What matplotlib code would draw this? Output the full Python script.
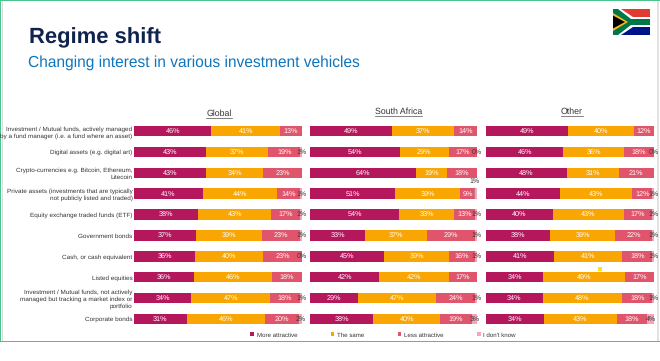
import numpy as np
import matplotlib
matplotlib.use('Agg')
import matplotlib.pyplot as plt
from matplotlib.patches import Polygon, Rectangle

plt.rcParams['font.family'] = ['Liberation Sans', 'DejaVu Sans']
plt.rcParams['text.hinting'] = 'no_hinting'

W, H = 660, 361

vehicles = ['Investment / Mutual funds, actively managed\nby a fund manager (i.e. a fund where an asset)',
            'Digital assets (e.g. digital art)',
            'Crypto-currencies e.g. Bitcoin, Ethereum,\nLitecoin',
            'Private assets (investments that are typically\nnot publicly listed and traded)',
            'Equity exchange traded funds (ETF)',
            'Government bonds',
            'Cash, or cash equivalent',
            'Listed equities',
            'Investment / Mutual funds, not actively\nmanaged but tracking a market index or\nportfolio',
            'Corporate bonds']
answers = ['More attractive', 'The same', 'Less attractive', "I don't know"]
colors = ['#B5175C', '#F9A602', '#E0556B', '#F6A5B8']

# nan = no label in the source chart
global_more = [46, 43, 43, 41, 38, 37, 36, 36, 34, 31]
global_same = [41, 37, 34, 44, 43, 39, 40, 46, 47, 46]
global_less = [13, 19, 23, 14, 17, 23, 23, 18, 18, 20]
global_dk = [np.nan, 1, np.nan, 1, 1, 1, 0, np.nan, 1, 2]

sa_more = [49, 54, 64, 51, 54, 33, 45, 42, 29, 38]
sa_same = [37, 29, 19, 39, 33, 37, 39, 42, 47, 40]
sa_less = [14, 17, 18, 9, 13, 29, 16, 17, 24, 19]
sa_dk = [np.nan, 0, np.nan, 1, 1, 1, 1, np.nan, 1, 3]

other_more = [49, 46, 48, 44, 40, 38, 41, 34, 34, 34]
other_same = [40, 36, 31, 43, 43, 39, 41, 49, 48, 43]
other_less = [12, 18, 21, 12, 17, 22, 18, 17, 18, 18]
other_dk = [np.nan, 0, np.nan, 1, 1, 1, 1, np.nan, 1, 4]

panels = [('Global', 134, 302, 219, 114, [global_more, global_same, global_less, global_dk]),
          ('South Africa', 310, 477, 398.5, 111.5, [sa_more, sa_same, sa_less, sa_dk]),
          ('Other', 486, 654, 572, 112, [other_more, other_same, other_less, other_dk])]


def px_axes(fig, x0, y0, x1, y1):
    return fig.add_axes([x0 / W, 1 - y1 / H, (x1 - x0) / W, (y1 - y0) / H])


def underlined(fig, x, y, s):
    t = fig.text(x / W, 1 - y / H, s, ha='center', va='center', fontsize=6.3, color='#333333')
    bb = t.get_window_extent(fig.canvas.get_renderer())
    yl = 1 - (y + 4.4) / H
    fig.add_artist(plt.Line2D([bb.x0 / W, bb.x1 / W], [yl, yl], color='#505050', lw=0.5))


fig = plt.figure(figsize=(W / 100, H / 100), dpi=100, facecolor='white')

# slide frame
bg = fig.add_axes([0, 0, 1, 1])
bg.set_xlim(0, W)
bg.set_ylim(H, 0)
bg.axis('off')
bg.add_patch(Rectangle((0, 0), W, 1.2, color='#4CC38A', lw=0))
bg.add_patch(Rectangle((0, 340.5), W, 1.2, color='#4CC38A', lw=0))
bg.add_patch(Rectangle((0, 0), 1.2, 341, color='#4CC38A', lw=0))
bg.add_patch(Rectangle((2, 1), 1, 340, color='#DDDDDD', lw=0))
bg.add_patch(Rectangle((656.5, 1), 2, 340, color='#E2E2E2', lw=0))
bg.add_patch(Rectangle((598, 267), 4, 4, color='#FFE11A', lw=0))

fig.text(29 / W, 1 - 43 / H, 'Regime shift', fontsize=15.8, fontweight='bold', color='#10234F')
fig.text(28 / W, 1 - 67 / H, 'Changing interest in various investment vehicles',
         fontsize=11.2, color='#0F75BC')

y = np.arange(len(vehicles))
for idx, (name, x0, x1, tx, ty, series) in enumerate(panels):
    ax = px_axes(fig, x0, 120.6, x1, 329.4)
    ax.patch.set_alpha(0)
    vals = np.nan_to_num(np.array(series, dtype=float))
    total = vals.sum(axis=0)
    left = np.zeros(len(y))
    for j, row in enumerate(vals):
        width = row / total * 100
        ax.barh(y, width, left=left, height=0.5, color=colors[j], lw=0, label=answers[j])
        for i in range(len(y)):
            if np.isnan(series[j][i]):
                continue
            cx = left[i] + width[i] / 2
            if j < 3:
                ax.text(cx, i, '%d%%' % row[i], ha='center', va='center', fontsize=5.2, color='white')
            elif name == 'South Africa' and i == 3:
                ax.annotate('1%', xy=(cx - 1, i + 0.2), xytext=(cx - 1, i - 0.6), ha='center', va='center',
                            fontsize=5, color='#333333',
                            arrowprops=dict(arrowstyle='-', color='#A0A0A0', lw=0.4, shrinkA=0, shrinkB=0))
            else:
                ax.text(cx, i, '%d%%' % row[i], ha='center', va='center', fontsize=5,
                        color='#333333', clip_on=False)
        left += width
    ax.set_xlim(0, 100)
    ax.set_ylim(len(y) - 0.5, -0.5)
    ax.set_xticks([])
    for s in ax.spines.values():
        s.set_visible(False)
    if idx == 0:
        ax.set_yticks(y)
        ax.set_yticklabels(vehicles, fontsize=4.55, color='#333333', linespacing=1.3)
        ax.tick_params(axis='y', length=0, pad=1)
        handles = ax.get_legend_handles_labels()
    else:
        ax.set_yticks([])
    underlined(fig, tx, ty, name)

leg = fig.legend(*handles, loc='center left', bbox_to_anchor=(250.5 / W, 1 - 335 / H), ncol=4, frameon=False,
                 fontsize=4.4, handlelength=0.6, handleheight=0.6, handletextpad=0.4, columnspacing=5.5,
                 borderpad=0, borderaxespad=0, labelcolor='#333333')

# flag
fl = px_axes(fig, 613, 9, 650, 35)
fl.set_xlim(0, 37)
fl.set_ylim(26, 0)
fl.axis('off')
fl.add_patch(Rectangle((0, 0), 37, 13, color='#E03C31', lw=0))
fl.add_patch(Rectangle((0, 13), 37, 13, color='#001489', lw=0))
fl.add_patch(Polygon([(0, 0), (8, 0), (20, 8), (37, 8), (37, 18), (20, 18), (8, 26), (0, 26)],
                     color='white', lw=0))
fl.add_patch(Polygon([(0, 0), (5, 0), (18, 10), (37, 10), (37, 16), (18, 16), (5, 26), (0, 26)],
                     color='#007749', lw=0))
fl.add_patch(Polygon([(0, 4), (15, 13), (0, 22)], color='#FFB81C', lw=0))
fl.add_patch(Polygon([(0, 6.5), (12, 13), (0, 19.5)], color='black', lw=0))

fig.savefig('out.png', dpi=100)
